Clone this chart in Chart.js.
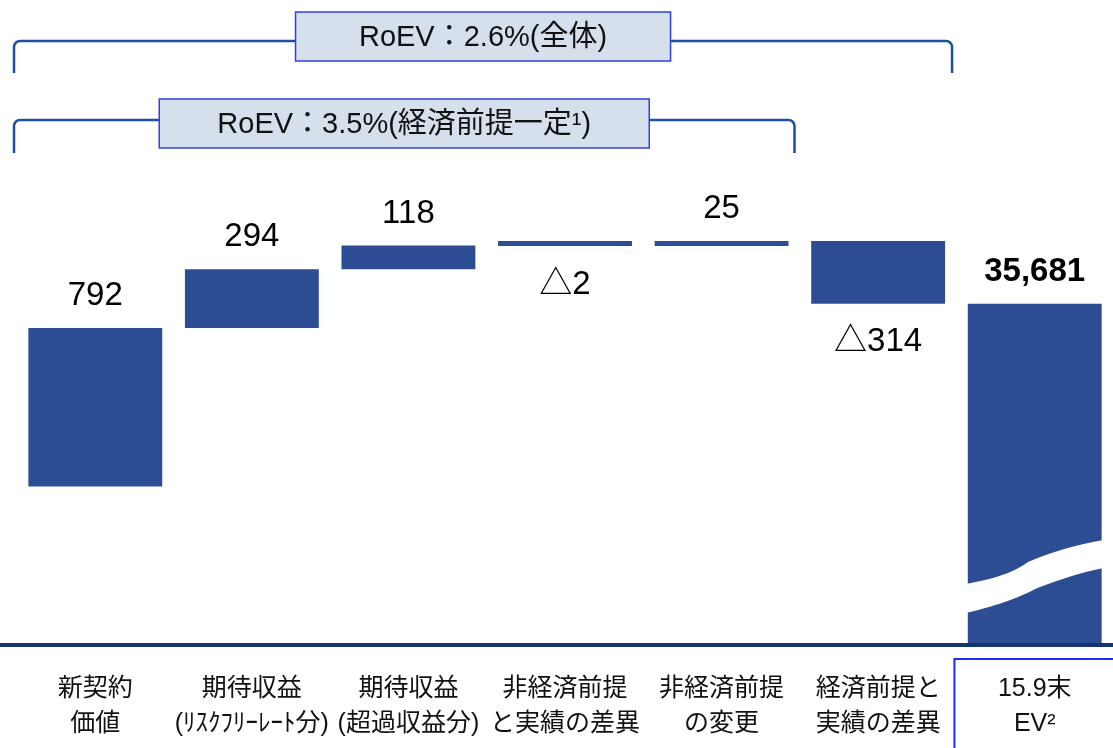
<!DOCTYPE html>
<html lang="ja">
<head>
  <meta charset="UTF-8" />
  <title>EV増減要因</title>
  <script src="https://cdn.jsdelivr.net/npm/chart.js"></script>
  <style>
    body { margin: 0; background: #fff; }
    #wrap { width: 1113px; height: 748px; }
  </style>
</head>
<body>
<div id="wrap"><canvas id="ev" width="1113" height="748"></canvas></div>
<script>
// data
const categories = [
  ['新契約', '価値'],
  ['期待収益', '(ﾘｽｸﾌﾘｰﾚｰﾄ分)'],
  ['期待収益', '(超過収益分)'],
  ['非経済前提', 'と実績の差異'],
  ['非経済前提', 'の変更'],
  ['経済前提と', '実績の差異'],
  ['15.9末', 'EV²']
];
const changes = [792, 294, 118, -2, 25, -314];
const endEV = 35681;
const axisMin = 33985;   // broken axis, bottom of the visible part
const axisMax = 36400;
const roevLabels = ['RoEV：2.6%(全体)', 'RoEV：3.5%(経済前提一定¹)'];

const FONT = '"Liberation Sans", Arial, "Noto Sans CJK JP", sans-serif';
const BAR = '#2c4d93';

// floating bars for the waterfall
const startEV = endEV - changes.reduce((a, b) => a + b, 0);
let run = startEV;
const ranges = changes.map(d => { const r = [run, run + d]; run += d; return r; });
ranges.push([axisMin, endEV]);
const shown = changes.concat([endEV]);

function fmt(v, i) {
  if (i === shown.length - 1) return v.toLocaleString('en-US');
  return v < 0 ? '△' + Math.abs(v) : String(v);
}

const overlay = {
  id: 'overlay',
  afterDatasetsDraw(chart) {
    const ctx = chart.ctx;
    const meta = chart.getDatasetMeta(0);
    const y = chart.scales.y;
    ctx.save();

    // break on the total bar
    const last = meta.data[meta.data.length - 1];
    const L = last.x - last.width / 2, R = last.x + last.width / 2, W = last.width;
    const yc = y.getPixelForValue(34325);
    ctx.fillStyle = '#fff';
    ctx.beginPath();
    ctx.moveTo(L - 2, yc + 9);
    ctx.bezierCurveTo(L + 0.25 * W, yc + 3, L + 0.38 * W, yc - 6, L + 0.45 * W, yc - 13);
    ctx.bezierCurveTo(L + 0.6 * W, yc - 22, L + 0.8 * W, yc - 30, R + 2, yc - 35);
    ctx.lineTo(R + 2, yc - 7);
    ctx.bezierCurveTo(L + 0.85 * W, yc - 3, L + 0.68 * W, yc + 5, L + 0.52 * W, yc + 13);
    ctx.bezierCurveTo(L + 0.42 * W, yc + 20, L + 0.25 * W, yc + 30, L - 2, yc + 38);
    ctx.closePath();
    ctx.fill();

    // value labels
    ctx.fillStyle = '#000';
    ctx.textAlign = 'center';
    meta.data.forEach((el, i) => {
      const top = Math.min(el.y, el.base), bot = Math.max(el.y, el.base);
      const isTotal = i === meta.data.length - 1;
      ctx.font = (isTotal ? 'bold ' : '') + '33px ' + FONT;
      if (shown[i] >= 0) {
        ctx.textBaseline = 'alphabetic';
        ctx.fillText(fmt(shown[i], i), el.x, top - 23);
      } else {
        ctx.textBaseline = 'top';
        ctx.fillText(fmt(shown[i], i), el.x, bot + 22);
      }
    });

    // baseline across the page
    ctx.fillStyle = '#14366f';
    ctx.fillRect(0, chart.chartArea.bottom, chart.width, 4);

    // box around the last category label
    const xs = chart.scales.x;
    const half = (xs.getPixelForValue(1) - xs.getPixelForValue(0)) / 2;
    ctx.strokeStyle = '#1f2cf0';
    ctx.lineWidth = 2;
    ctx.strokeRect(xs.getPixelForValue(6) - half - 2, 659, half * 2 + 20, 120);

    // RoEV brackets
    const right = i => meta.data[i].x + meta.data[i].width / 2;
    const brackets = [
      { x0: xs.left - 3, x1: right(5) + 7, yl: 41, yb: 73, boxTop: 12, boxW: 375, text: roevLabels[0] },
      { x0: xs.left - 3, x1: right(4) + 6, yl: 120, yb: 153, boxTop: 99, boxW: 490, text: roevLabels[1] }
    ];
    brackets.forEach(b => {
      const r = 6;
      ctx.strokeStyle = '#1f4f9e';
      ctx.lineWidth = 2.5;
      ctx.beginPath();
      ctx.moveTo(b.x0, b.yb);
      ctx.lineTo(b.x0, b.yl + r);
      ctx.arcTo(b.x0, b.yl, b.x0 + r, b.yl, r);
      ctx.lineTo(b.x1 - r, b.yl);
      ctx.arcTo(b.x1, b.yl, b.x1, b.yl + r, r);
      ctx.lineTo(b.x1, b.yb);
      ctx.stroke();
      const cx = (b.x0 + b.x1) / 2;
      ctx.fillStyle = '#d6dfec';
      ctx.fillRect(cx - b.boxW / 2, b.boxTop, b.boxW, 49);
      ctx.strokeStyle = '#2f3fe0';
      ctx.lineWidth = 1.5;
      ctx.strokeRect(cx - b.boxW / 2, b.boxTop, b.boxW, 49);
      ctx.fillStyle = '#111';
      ctx.font = '29px ' + FONT;
      ctx.textBaseline = 'middle';
      ctx.fillText(b.text, cx, b.boxTop + 26);
    });
    ctx.restore();
  }
};

new Chart(document.getElementById('ev'), {
  type: 'bar',
  data: {
    labels: categories,
    datasets: [{
      data: ranges,
      backgroundColor: BAR,
      borderWidth: 0,
      minBarLength: 5,
      categoryPercentage: 1,
      barPercentage: 0.855
    }]
  },
  options: {
    responsive: false,
    animation: false,
    layout: { padding: { top: 160, left: 17, right: 0, bottom: 0 } },
    plugins: { legend: { display: false }, tooltip: { enabled: false } },
    scales: {
      x: {
        grid: { display: false },
        border: { display: false },
        afterFit(scale) { scale.height = 105; },
        ticks: {
          color: '#111',
          padding: 21,
          autoSkip: false,
          maxRotation: 0,
          font: { size: 25, family: FONT, lineHeight: 1.4 }
        }
      },
      y: { display: false, min: axisMin, max: axisMax }
    }
  },
  plugins: [overlay]
});
</script>
</body>
</html>
